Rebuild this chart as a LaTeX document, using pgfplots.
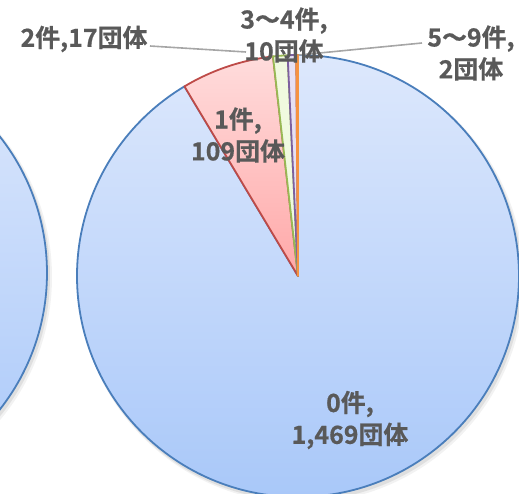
\documentclass[border=0pt]{standalone}
\usepackage{fontspec}
\setmainfont{Noto Sans CJK JP}[BoldFont={Noto Sans CJK JP Bold}, BoldFeatures={FakeBold=0.6}]
\usepackage{pgfplots}
\usepackage{pgfplotstable}
\pgfplotsset{compat=1.18}
\definecolor{lab}{HTML}{595959}
\definecolor{leader}{HTML}{A6A6A6}
\definecolor{bE}{HTML}{4A7EBB}\definecolor{bT}{HTML}{DDE8FC}\definecolor{bB}{HTML}{A9C8F9}
\definecolor{rE}{HTML}{BE4B48}\definecolor{rT}{HTML}{FFDCDC}\definecolor{rB}{HTML}{FFA8A8}
\definecolor{gE}{HTML}{98B954}\definecolor{gF}{HTML}{F0FADF}
\definecolor{pE}{HTML}{7D60A0}\definecolor{pF}{HTML}{E6E0F3}
\definecolor{oE}{HTML}{F69240}\definecolor{oF}{HTML}{FDE9D9}
\pgfplotstableread[col sep=comma]{
cat,val
0件,1469
1件,109
2件,17
3～4件,10
5～9件,2
}\piedata
\begin{document}
\begin{tikzpicture}
\pgfplotstablegetelem{0}{val}\of\piedata \let\vA\pgfplotsretval
\pgfplotstablegetelem{1}{val}\of\piedata \let\vB\pgfplotsretval
\pgfplotstablegetelem{2}{val}\of\piedata \let\vC\pgfplotsretval
\pgfplotstablegetelem{3}{val}\of\piedata \let\vD\pgfplotsretval
\pgfplotstablegetelem{4}{val}\of\piedata \let\vE\pgfplotsretval
\pgfmathsetmacro\tot{\vA+\vB+\vC+\vD+\vE}
\pgfmathsetmacro\aB{90-360*(\vA/\tot)}
\pgfmathsetmacro\aC{\aB-360*(\vB/\tot)}
\pgfmathsetmacro\aD{\aC-360*(\vC/\tot)}
\pgfmathsetmacro\aE{\aD-360*(\vD/\tot)}
\pgfmathsetmacro\aF{\aE-360*(\vE/\tot)}
\useasboundingbox (0,0) rectangle (519bp,494bp);
\clip (0,0) rectangle (519bp,494bp);
\begin{axis}[at={(0,0)}, anchor=origin, x=1bp, y=1bp, scale only axis,
  xmin=0, xmax=519, ymin=0, ymax=494, hide axis, clip=false]
% shadows
\fill[black, opacity=0.05] (axis cs:301,214) circle[radius=223bp];
\fill[black, opacity=0.08] (axis cs:300,215) circle[radius=222bp];
\fill[black, opacity=0.05] (axis cs:-171,217) circle[radius=223bp];
\fill[black, opacity=0.08] (axis cs:-172,218) circle[radius=222bp];
% left (other) pie
\path[draw=bE, line width=1.8bp, top color=bT, bottom color=bB] (axis cs:-174,221) circle[radius=221bp];
% main pie
\path[draw=bE, line width=1.8bp, top color=bT, bottom color=bB, line join=round]
  (axis cs:298,218) -- ++(90:221bp) arc[start angle=90, end angle=\aB, radius=221bp] -- cycle;
\path[draw=rE, line width=1.8bp, top color=rT, bottom color=rB, line join=round]
  (axis cs:298,218) -- ++(\aB:221bp) arc[start angle=\aB, end angle=\aC, radius=221bp] -- cycle;
\path[draw=gE, line width=1.8bp, fill=gF, line join=round]
  (axis cs:298,218) -- ++(\aC:221bp) arc[start angle=\aC, end angle=\aD, radius=221bp] -- cycle;
\path[draw=pE, line width=1.8bp, fill=pF, line join=round]
  (axis cs:298,218) -- ++(\aD:221bp) arc[start angle=\aD, end angle=\aE, radius=221bp] -- cycle;
\path[draw=oE, line width=1.8bp, fill=oF, line join=round]
  (axis cs:298,218) -- ++(\aE:221bp) arc[start angle=\aE, end angle=\aF, radius=221bp] -- cycle;
% leader lines
\draw[leader, line width=1.6bp] (axis cs:150,448) -- (axis cs:246,442);
\draw[leader, line width=1.6bp] (axis cs:299,439) -- (axis cs:422,451);
% labels
\tikzset{lbl/.style={text=lab, align=center, inner sep=0pt, font=\fontsize{25}{32}\selectfont\bfseries}}
\node[lbl] at (axis cs:350,74) {0件,\\1,469団体};
\node[lbl] at (axis cs:238,359) {1件,\\109団体};
\node[lbl] at (axis cs:84,455) {2件,17団体};
\node[lbl] at (axis cs:284,459) {3～4件,\\10団体};
\node[lbl] at (axis cs:471,441) {5～9件,\\2団体};
\end{axis}
\end{tikzpicture}
\end{document}
